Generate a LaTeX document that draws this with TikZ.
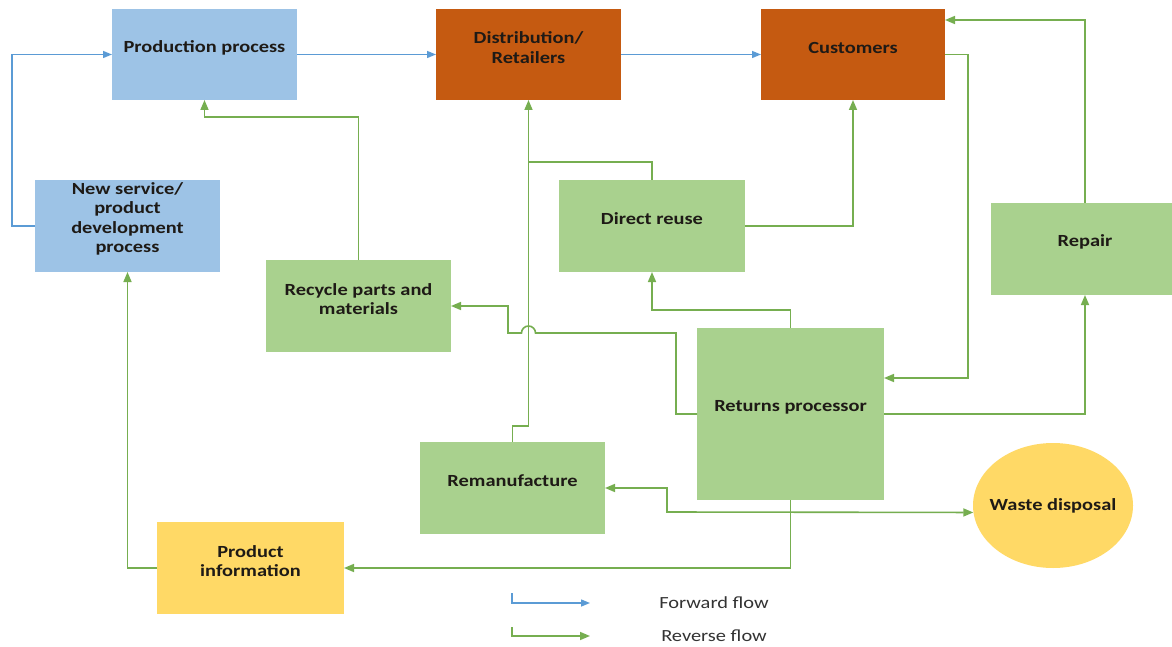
\documentclass[tikz,border=0pt]{standalone}
\usepackage{fontspec}
\setmainfont{Carlito}
\newfontfamily\diagfont{Carlito}[FakeStretch=1.2]
\usetikzlibrary{arrows.meta,shapes.geometric}
\definecolor{bluefill}{HTML}{9DC3E6}
\definecolor{orangefill}{HTML}{C55A11}
\definecolor{greenfill}{HTML}{A9D18E}
\definecolor{yellowfill}{HTML}{FFD966}
\definecolor{fwdline}{HTML}{5B9BD5}
\definecolor{revline}{HTML}{76AE50}
\definecolor{textdark}{HTML}{1E1A16}
\begin{document}
\begin{tikzpicture}[x=1pt,y=-1pt,
  box/.style={fill=#1, inner sep=0pt, outer sep=0pt, minimum width=185pt, minimum height=91pt},
  lbl/.style={font=\diagfont\fontsize{17}{19.5}\selectfont\bfseries, align=center, text=textdark, yshift=7pt},
  legendtext/.style={font=\diagfont\fontsize{17}{20}\selectfont, text=black!80},
  fwd/.style={draw=fwdline, line width=1.4pt, -{Triangle[length=9pt,width=7pt]}},
  rev/.style={draw=revline, line width=1.6pt, -{Triangle[length=10pt,width=8pt]}},
  revplain/.style={draw=revline, line width=1.6pt},
  revboth/.style={draw=revline, line width=1.6pt, {Triangle[length=10pt,width=8pt]}-{Triangle[length=10pt,width=8pt]}}
]
\useasboundingbox (0,0) rectangle (1172,647);
\fill[white] (0,0) rectangle (1172,647);

% forward chain
\node[box=bluefill] (pp) at (204.5,54.5) {};
\node[lbl] (ppT) at (pp) {Production process};
\node[box=bluefill, minimum height=92pt] (ns) at (127.5,226) {};
\node[lbl] (nsT) at (ns) {New service/\\product\\development\\process};
\node[box=orangefill] (dist) at (528.5,54.5) {};
\node[lbl] (distT) at (dist) {Distribution/\\Retailers};
\node[box=orangefill, minimum width=184pt] (cu) at (853,54.5) {};
\node[lbl] (cuT) at (cu) {Customers};

% reverse chain
\node[box=greenfill, minimum width=186pt, minimum height=92pt] (du) at (652,226) {};
\node[lbl] (duT) at (du) {Direct reuse};
\node[box=greenfill, minimum width=188pt, minimum height=92pt] (rep) at (1085,249) {};
\node[lbl] (repT) at (rep) {Repair};
\node[box=greenfill, minimum height=92pt] (rec) at (358.5,306) {};
\node[lbl] (recT) at (rec) {Recycle parts and\\materials};
\node[box=greenfill, minimum width=187pt, minimum height=172pt] (rp) at (790.5,414) {};
\node[lbl] (rpT) at (rp) {Returns processor};
\node[box=greenfill, minimum height=92pt] (rem) at (512.5,488) {};
\node[lbl] (remT) at (rem) {Remanufacture};
\node[box=yellowfill, minimum width=187pt, minimum height=92pt] (pi) at (250.5,568) {};
\node[lbl] (piT) at (pi) {Product\\information};
\node[ellipse, fill=yellowfill, inner sep=0pt, minimum width=160pt, minimum height=125pt] (ws) at (1053,505.5) {};
\node[lbl, yshift=-7pt] (wsT) at (ws) {Waste disposal};

% forward flow
\draw[fwd] (ns.west) -- ++(-23,0) |- (pp.west);
\draw[fwd] (pp.east) -- (dist.west);
\draw[fwd] (dist.east) -- (cu.west);

% reverse flow
\draw[rev] (rec.north) -- (rec.north |- 0,117) -| (pp.south);
\draw[rev] (pi.west) -| (ns.south);
\draw[rev] (rem.north) -- (rem.north |- 0,426) -| (dist.south);
\draw[revplain] (du.north) |- (dist.south |- 0,162);
\draw[rev] (du.east) -| (cu.south);
\draw[rev] (rp.north) -- (rp.north |- 0,310) -| (du.south);
\draw[rev] (rp.west) -- ++(-21,0) |- (535.5,333)
  arc[start angle=0, end angle=180, radius=7pt] -- (508,333) |- (rec.east);
\draw[rev] (cu.east) -- ++(23,0) |- (rp.east |- 0,378);
\draw[rev] (rp.east) -| (rep.south);
\draw[rev] (rep.north) |- (cu.east |- 0,20);
\draw[rev] (rp.south) |- (pi.east);
\draw[revboth] (rem.east) -- (667,488) -- (667,512) -- (ws.185);

% legend
\coordinate (fA) at (512,593);
\coordinate (fB) at (590,603);
\draw[fwd] (fA) |- (fB);
\node[legendtext] (fT) at (714,603) {Forward flow};
\coordinate (rA) at (512,627);
\coordinate (rB) at (590,636);
\draw[rev] (rA) |- (rB);
\node[legendtext] (rT) at (714,636) {Reverse flow};
\end{tikzpicture}
\end{document}
